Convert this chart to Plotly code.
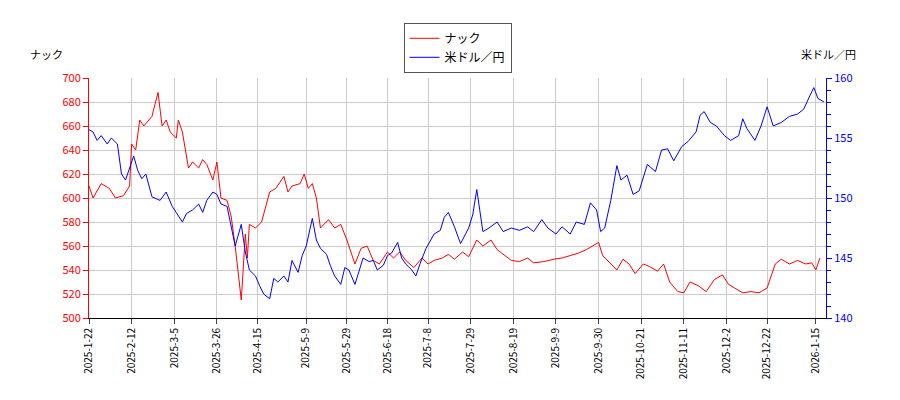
import plotly.graph_objects as go

red_dates = ["2025-01-22","2025-01-24","2025-01-28","2025-02-01","2025-02-04","2025-02-08","2025-02-11","2025-02-12","2025-02-14","2025-02-16","2025-02-18","2025-02-22","2025-02-25","2025-02-27","2025-03-01","2025-03-03","2025-03-06","2025-03-07","2025-03-09","2025-03-12","2025-03-14","2025-03-17","2025-03-19","2025-03-21","2025-03-24","2025-03-26","2025-03-28","2025-03-31","2025-04-02","2025-04-04","2025-04-07","2025-04-09","2025-04-10","2025-04-11","2025-04-14","2025-04-17","2025-04-21","2025-04-24","2025-04-28","2025-04-30","2025-05-02","2025-05-06","2025-05-08","2025-05-10","2025-05-12","2025-05-14","2025-05-16","2025-05-20","2025-05-23","2025-05-26","2025-05-29","2025-06-02","2025-06-05","2025-06-08","2025-06-11","2025-06-14","2025-06-18","2025-06-21","2025-06-24","2025-06-27","2025-07-01","2025-07-05","2025-07-08","2025-07-11","2025-07-15","2025-07-18","2025-07-21","2025-07-25","2025-07-28","2025-08-01","2025-08-04","2025-08-08","2025-08-11","2025-08-14","2025-08-18","2025-08-22","2025-08-26","2025-08-29","2025-09-03","2025-09-08","2025-09-12","2025-09-16","2025-09-20","2025-09-24","2025-09-28","2025-09-30","2025-10-02","2025-10-06","2025-10-09","2025-10-12","2025-10-15","2025-10-18","2025-10-22","2025-10-25","2025-10-29","2025-11-01","2025-11-04","2025-11-08","2025-11-11","2025-11-14","2025-11-18","2025-11-22","2025-11-26","2025-11-30","2025-12-03","2025-12-06","2025-12-10","2025-12-14","2025-12-18","2025-12-22","2025-12-26","2025-12-29","2026-01-02","2026-01-06","2026-01-10","2026-01-13","2026-01-15","2026-01-17"]
red_vals = [610,600,612,608,600,602,610,645,640,665,660,668,688,660,665,655,650,665,655,625,630,625,632,628,615,630,600,598,585,560,515,570,550,578,575,580,605,608,618,605,610,612,620,608,612,600,575,582,575,578,565,545,558,560,548,545,555,550,555,548,542,550,545,548,550,553,549,555,551,565,560,565,557,553,548,547,550,546,547,549,550,552,554,557,561,563,552,545,540,549,545,537,545,543,539,545,530,522,521,530,527,522,532,536,528,525,521,522,521,525,545,549,545,548,545,546,540,550]

blue_dates = ["2025-01-22","2025-01-24","2025-01-26","2025-01-28","2025-01-31","2025-02-02","2025-02-05","2025-02-07","2025-02-09","2025-02-11","2025-02-13","2025-02-15","2025-02-17","2025-02-19","2025-02-22","2025-02-26","2025-03-01","2025-03-04","2025-03-07","2025-03-09","2025-03-11","2025-03-14","2025-03-17","2025-03-19","2025-03-21","2025-03-24","2025-03-26","2025-03-28","2025-03-31","2025-04-02","2025-04-04","2025-04-07","2025-04-09","2025-04-11","2025-04-14","2025-04-16","2025-04-18","2025-04-21","2025-04-23","2025-04-25","2025-04-28","2025-04-30","2025-05-02","2025-05-05","2025-05-07","2025-05-09","2025-05-12","2025-05-14","2025-05-16","2025-05-19","2025-05-21","2025-05-23","2025-05-26","2025-05-28","2025-05-30","2025-06-02","2025-06-04","2025-06-06","2025-06-09","2025-06-11","2025-06-13","2025-06-16","2025-06-18","2025-06-20","2025-06-23","2025-06-25","2025-06-27","2025-06-30","2025-07-02","2025-07-04","2025-07-07","2025-07-09","2025-07-11","2025-07-14","2025-07-16","2025-07-18","2025-07-21","2025-07-24","2025-07-28","2025-07-30","2025-08-01","2025-08-04","2025-08-07","2025-08-11","2025-08-14","2025-08-18","2025-08-22","2025-08-26","2025-08-29","2025-09-02","2025-09-05","2025-09-09","2025-09-12","2025-09-16","2025-09-19","2025-09-23","2025-09-26","2025-09-29","2025-10-01","2025-10-03","2025-10-06","2025-10-09","2025-10-11","2025-10-14","2025-10-17","2025-10-20","2025-10-24","2025-10-28","2025-10-31","2025-11-03","2025-11-06","2025-11-10","2025-11-13","2025-11-17","2025-11-19","2025-11-21","2025-11-24","2025-11-27","2025-12-01","2025-12-04","2025-12-08","2025-12-10","2025-12-12","2025-12-16","2025-12-19","2025-12-22","2025-12-25","2025-12-29","2026-01-02","2026-01-06","2026-01-09","2026-01-12","2026-01-14","2026-01-16","2026-01-19"]
blue_vals = [155.7,155.5,154.8,155.2,154.5,155.0,154.5,152.0,151.5,152.5,153.5,152.3,151.6,152.0,150.1,149.8,150.5,149.3,148.5,148.0,148.7,149.0,149.5,148.8,149.8,150.5,150.3,149.5,149.3,147.5,146.0,147.8,145.5,144.0,143.5,142.7,142.0,141.6,143.3,143.0,143.5,143.0,144.8,143.8,145.2,146.0,148.3,146.5,145.8,145.3,144.3,143.5,142.8,144.2,144.0,142.8,144.0,145.0,144.7,144.8,144.0,144.4,145.2,145.4,146.3,145.0,144.5,144.0,143.5,144.5,145.8,146.4,147.0,147.3,148.4,148.8,147.6,146.2,147.5,148.6,150.7,147.2,147.5,148.0,147.2,147.5,147.3,147.6,147.2,148.2,147.5,147.0,147.6,147.0,148.0,147.8,149.6,149.0,147.2,147.5,149.8,152.7,151.5,151.9,150.3,150.6,152.8,152.2,154.0,154.1,153.1,154.3,154.7,155.5,156.9,157.2,156.3,156.0,155.2,154.8,155.2,156.6,155.8,154.8,156.0,157.6,156.0,156.3,156.8,157.0,157.4,158.5,159.2,158.3,158.0]

tick_dates = ["2025-01-22","2025-02-12","2025-03-05","2025-03-26","2025-04-15","2025-05-09","2025-05-29","2025-06-18","2025-07-08","2025-07-29","2025-08-19","2025-09-09","2025-09-30","2025-10-21","2025-11-11","2025-12-02","2025-12-22","2026-01-15"]
tick_text = ["2025-1-22","2025-2-12","2025-3-5","2025-3-26","2025-4-15","2025-5-9","2025-5-29","2025-6-18","2025-7-8","2025-7-29","2025-8-19","2025-9-9","2025-9-30","2025-10-21","2025-11-11","2025-12-2","2025-12-22","2026-1-15"]

fig = go.Figure()
fig.add_trace(go.Scatter(x=red_dates, y=red_vals, name="ナック", mode="lines",
                         line=dict(color="red", width=1)))
fig.add_trace(go.Scatter(x=blue_dates, y=blue_vals, name="米ドル／円", mode="lines",
                         line=dict(color="blue", width=1), yaxis="y2"))
font = dict(family="Noto Sans CJK JP, DejaVu Sans", size=11, color="black")
fig.update_layout(
    width=900, height=400, margin=dict(l=81, r=82, t=70, b=90),
    paper_bgcolor="white", plot_bgcolor="white", font=font,
    showlegend=True,
    legend=dict(x=0.5, y=1.23, xanchor="center", yanchor="top", bordercolor="#555",
                borderwidth=1, bgcolor="white", font=dict(size=12)),
    xaxis=dict(range=["2025-01-22", "2026-01-20"], tickvals=tick_dates, ticktext=tick_text,
               tickangle=-90, showgrid=True, gridcolor="#cccccc", ticks="outside",
               showline=True, linecolor="black", mirror=False, tickfont=dict(size=10)),
    yaxis=dict(range=[500, 700], dtick=20, showgrid=True, gridcolor="#cccccc",
               tickfont=dict(color="red"), showline=True, linecolor="red", ticks="outside",
               tickcolor="red", zeroline=False),
    yaxis2=dict(range=[140, 160], dtick=5, overlaying="y", side="right", showgrid=False,
                tickfont=dict(color="blue"), showline=True, linecolor="blue", ticks="outside",
                tickcolor="blue", minor=dict(dtick=1, ticks="outside", tickcolor="blue", ticklen=4),
                zeroline=False),
    annotations=[
        dict(text="ナック", xref="paper", yref="paper", x=-0.083, y=1.10, showarrow=False,
             xanchor="left", yanchor="middle", font=dict(size=11)),
        dict(text="米ドル／円", xref="paper", yref="paper", x=1.043, y=1.10, showarrow=False,
             xanchor="right", yanchor="middle", font=dict(size=11)),
    ],
)
fig.write_html("out.html")
